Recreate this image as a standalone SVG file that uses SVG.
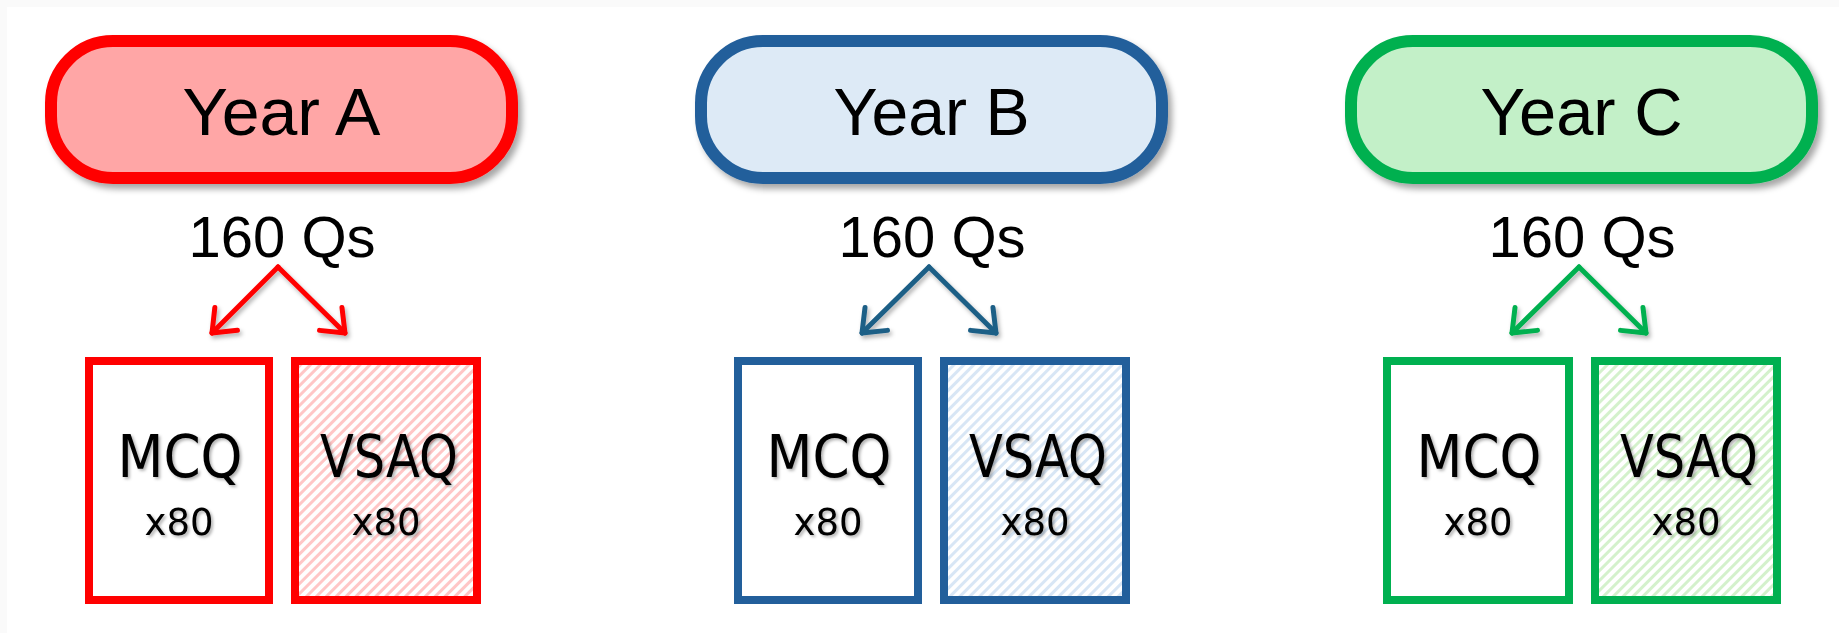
<svg xmlns="http://www.w3.org/2000/svg" width="1839" height="633" viewBox="0 0 1839 633">
  <defs>
    <style>
      .pill { stroke-width: 12; }
      .box { stroke-width: 8; }
      .title { font-family: "Liberation Sans", Arial, sans-serif; font-size: 67px; fill: #000; text-anchor: middle; }
      .count { font-family: "Liberation Sans", Arial, sans-serif; font-size: 58px; fill: #000; text-anchor: middle; }
      .kind { font-family: "DejaVu Sans", Verdana, sans-serif; font-size: 58px; fill: #000; text-anchor: middle; }
      .num { font-family: "DejaVu Sans", Verdana, sans-serif; font-size: 37px; fill: #000; text-anchor: middle; }
      .arrow { fill: none; stroke-width: 5; stroke-linecap: round; stroke-linejoin: round; }
      .head { fill: none; stroke-width: 5; stroke-linecap: round; stroke-linejoin: round; }
      .red { stroke: #FF0000; }
      .blue { stroke: #225F9B; }
      .teal { stroke: #1E5F86; }
      .green { stroke: #00B050; }
    </style>
    <filter id="shadowPill" x="-10%" y="-20%" width="130%" height="150%">
      <feDropShadow dx="4" dy="5" stdDeviation="3" flood-color="#000" flood-opacity="0.35"/>
    </filter>
    <filter id="shadowSoft" x="-20%" y="-20%" width="150%" height="150%">
      <feDropShadow dx="2" dy="3" stdDeviation="2" flood-color="#000" flood-opacity="0.3"/>
    </filter>
    <filter id="shadowText" x="-10%" y="-20%" width="130%" height="150%">
      <feDropShadow dx="2" dy="2" stdDeviation="1.5" flood-color="#000" flood-opacity="0.3"/>
    </filter>
    <pattern id="hatchRed" patternUnits="userSpaceOnUse" width="7" height="7" patternTransform="rotate(45)">
      <rect width="7" height="7" fill="#FFFFFF"/>
      <rect width="3" height="7" fill="#FFC6C6"/>
    </pattern>
    <pattern id="hatchBlue" patternUnits="userSpaceOnUse" width="7" height="7" patternTransform="rotate(45)">
      <rect width="7" height="7" fill="#FFFFFF"/>
      <rect width="3" height="7" fill="#D8E6F5"/>
    </pattern>
    <pattern id="hatchGreen" patternUnits="userSpaceOnUse" width="7" height="7" patternTransform="rotate(45)">
      <rect width="7" height="7" fill="#FFFFFF"/>
      <rect width="3" height="7" fill="#D4F1CC"/>
    </pattern>
    <!-- open chevron heads, tip at the origin -->
    <marker id="headRed" viewBox="-30 -30 40 60" refX="0" refY="0" markerWidth="40" markerHeight="60" markerUnits="userSpaceOnUse" orient="auto" overflow="visible">
      <path class="head red" d="M-20 -16 L0 0 L-20 16"/>
    </marker>
    <marker id="headTeal" viewBox="-30 -30 40 60" refX="0" refY="0" markerWidth="40" markerHeight="60" markerUnits="userSpaceOnUse" orient="auto" overflow="visible">
      <path class="head teal" d="M-20 -16 L0 0 L-20 16"/>
    </marker>
    <marker id="headGreen" viewBox="-30 -30 40 60" refX="0" refY="0" markerWidth="40" markerHeight="60" markerUnits="userSpaceOnUse" orient="auto" overflow="visible">
      <path class="head green" d="M-20 -16 L0 0 L-20 16"/>
    </marker>
  </defs>

  <!-- page -->
  <rect x="0" y="0" width="1839" height="633" fill="#FAFAFA"/>
  <rect x="7" y="7" width="1832" height="626" fill="#FFFFFF"/>

  <!-- Year A -->
  <g id="yearA">
    <rect class="pill red" x="51" y="41" width="461" height="137" rx="62" fill="#FFA6A6" filter="url(#shadowPill)"/>
    <text class="title" x="281.5" y="135" textLength="198" lengthAdjust="spacingAndGlyphs">Year A</text>
  </g>
  <g id="countA"><text class="count" x="282" y="257">160 Qs</text></g>
  <g id="mcqA">
    <rect class="box red" x="89" y="361" width="180" height="239" fill="#FFFFFF"/>
    <g filter="url(#shadowText)">
      <text class="kind" x="180" y="477" textLength="125" lengthAdjust="spacingAndGlyphs">MCQ</text>
      <text class="num" x="179" y="535">x80</text>
    </g>
  </g>
  <g id="vsaqA">
    <rect class="box red" x="295" y="361" width="182" height="239" fill="url(#hatchRed)"/>
    <g filter="url(#shadowText)">
      <text class="kind" x="389" y="477" textLength="138" lengthAdjust="spacingAndGlyphs">VSAQ</text>
      <text class="num" x="386" y="535">x80</text>
    </g>
  </g>

  <!-- Year B -->
  <g id="yearB">
    <rect class="pill blue" x="701" y="41" width="461" height="137" rx="62" fill="#DDEAF6" filter="url(#shadowPill)"/>
    <text class="title" x="931.5" y="135" textLength="196" lengthAdjust="spacingAndGlyphs">Year B</text>
  </g>
  <g id="countB"><text class="count" x="932" y="257">160 Qs</text></g>
  <g id="mcqB">
    <rect class="box blue" x="738" y="361" width="180" height="239" fill="#FFFFFF"/>
    <g filter="url(#shadowText)">
      <text class="kind" x="829" y="477" textLength="125" lengthAdjust="spacingAndGlyphs">MCQ</text>
      <text class="num" x="828" y="535">x80</text>
    </g>
  </g>
  <g id="vsaqB">
    <rect class="box blue" x="944" y="361" width="182" height="239" fill="url(#hatchBlue)"/>
    <g filter="url(#shadowText)">
      <text class="kind" x="1038" y="477" textLength="138" lengthAdjust="spacingAndGlyphs">VSAQ</text>
      <text class="num" x="1035" y="535">x80</text>
    </g>
  </g>

  <!-- Year C -->
  <g id="yearC">
    <rect class="pill green" x="1351" y="41" width="461" height="137" rx="62" fill="#C3F0C8" filter="url(#shadowPill)"/>
    <text class="title" x="1581.5" y="135" textLength="202" lengthAdjust="spacingAndGlyphs">Year C</text>
  </g>
  <g id="countC"><text class="count" x="1582" y="257">160 Qs</text></g>
  <g id="mcqC">
    <rect class="box green" x="1387" y="361" width="182" height="239" fill="#FFFFFF"/>
    <g filter="url(#shadowText)">
      <text class="kind" x="1479" y="477" textLength="125" lengthAdjust="spacingAndGlyphs">MCQ</text>
      <text class="num" x="1478" y="535">x80</text>
    </g>
  </g>
  <g id="vsaqC">
    <rect class="box green" x="1595" y="361" width="182" height="239" fill="url(#hatchGreen)"/>
    <g filter="url(#shadowText)">
      <text class="kind" x="1689" y="477" textLength="138" lengthAdjust="spacingAndGlyphs">VSAQ</text>
      <text class="num" x="1686" y="535">x80</text>
    </g>
  </g>

  <!-- split arrows -->
  <g id="connectors">
    <g filter="url(#shadowSoft)">
      <path class="arrow red" d="M278 267 L212 333" marker-end="url(#headRed)"/>
      <path class="arrow red" d="M278 267 L345 333" marker-end="url(#headRed)"/>
      <path class="arrow teal" d="M929 267 L862 333" marker-end="url(#headTeal)"/>
      <path class="arrow teal" d="M929 267 L996 333" marker-end="url(#headTeal)"/>
      <path class="arrow green" d="M1579 267 L1512 333" marker-end="url(#headGreen)"/>
      <path class="arrow green" d="M1579 267 L1646 333" marker-end="url(#headGreen)"/>
    </g>
  </g>
</svg>
